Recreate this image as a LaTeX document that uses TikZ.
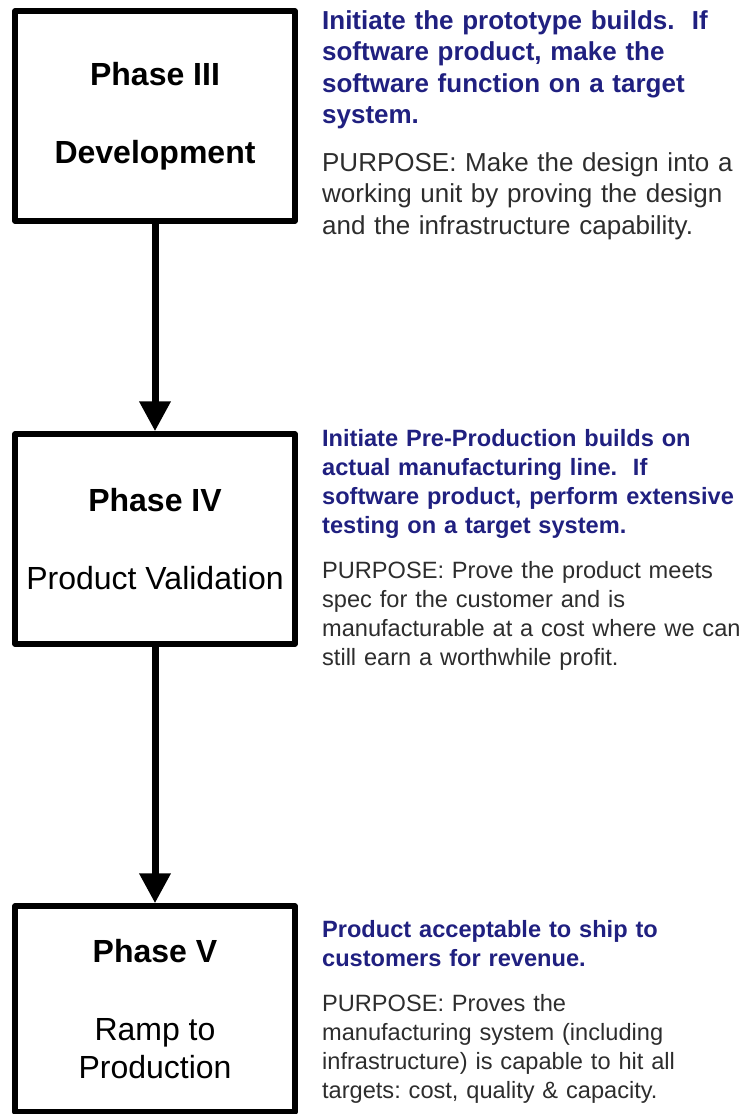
\documentclass[tikz,border=0pt]{standalone}
\usepackage{fontspec}
\setmainfont{Liberation Sans}
\usepackage{tikz}
\usetikzlibrary{shapes,arrows,arrows.meta,positioning}
\frenchspacing
\definecolor{phaseblue}{RGB}{32,32,128}
\definecolor{notegray}{RGB}{45,45,45}
\tikzstyle{phase} = [draw, rectangle, line width=2.75pt, line join=round,
    minimum width=140pt, minimum height=105pt, align=center, inner sep=0pt,
    font=\fontsize{16pt}{19pt}\selectfont]
\tikzstyle{note} = [text width=215pt, align=left, inner sep=0pt, text=notegray,
    font=\fontsize{11.8pt}{14.5pt}\selectfont]
\tikzstyle{line} = [draw, line width=3.5pt, -{Triangle[length=15pt,width=15pt]}]

\begin{document}
\begin{tikzpicture}[node distance = 211.5pt, auto]
    \useasboundingbox (0,0) rectangle (371.5pt,-557pt);
    \node [phase] (dev) at (77.5pt,-58pt) {\textbf{Phase III}\\[20pt]\textbf{Development}};
    \node [phase, below of=dev] (valid) {\textbf{Phase IV}\\[20pt]Product Validation};
    \node [phase, below of=valid, node distance=235pt, minimum height=103pt] (ramp) {\textbf{Phase V}\\[20pt]Ramp to\\Production};
    \node [note, right=12pt of dev, yshift=-4.5pt, font=\fontsize{13pt}{15.75pt}\selectfont] (devnote) {{\color{phaseblue}\bfseries Initiate the prototype builds.~ If\\ software product, make the\\ software function on a target\\ system.}\\[8pt]PURPOSE: Make the design into a\\ working unit by proving the design\\ and the infrastructure capability.};
    \node [note, right=12pt of valid, yshift=-5.5pt] (validnote) {{\color{phaseblue}\bfseries Initiate Pre-Production builds on\\ actual manufacturing line.~ If\\ software product, perform extensive\\ testing on a target system.}\\[8pt]PURPOSE: Prove the product meets\\ spec for the customer and is\\ manufacturable at a cost where we can\\ still earn a worthwhile profit.};
    \node [note, right=12pt of ramp, yshift=-1.5pt] (rampnote) {{\color{phaseblue}\bfseries Product acceptable to ship to\\ customers for revenue.}\\[8pt]PURPOSE: Proves the\\ manufacturing system (including\\ infrastructure) is capable to hit all\\ targets: cost, quality \& capacity.};
    \path [line] (dev) -- (valid);
    \path [line] (valid) -- (ramp);
\end{tikzpicture}
\end{document}
